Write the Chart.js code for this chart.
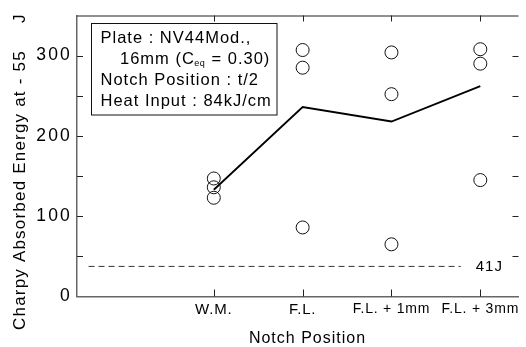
<!DOCTYPE html>
<html><head><meta charset="utf-8">
<script src="https://cdn.jsdelivr.net/npm/chart.js@4"></script>
<style>html,body{margin:0;padding:0;background:#fff;}#wrap{width:526px;height:347px;}</style>
</head><body><div id="wrap"><canvas id="c" width="526" height="347"></canvas></div>
<script>
// ---- data ----
const categories = ['W.M.', 'F.L.', 'F.L. + 1mm', 'F.L. + 3mm'];
const specimenValues = [[147, 136, 123], [307, 285, 86], [304, 252, 65], [308, 290, 145]];
const averageValues = [133, 236, 218, 262];
const criterionValue = 37.5;
const criterionLabel = '41J';
const yTickLabels = [0, 100, 200, 300];
const yTitle = 'Charpy Absorbed Energy at - 55';
const yUnit = 'J';
const xTitle = 'Notch Position';

const FONT = '"Liberation Sans", Arial, sans-serif';

const scatterData = specimenValues.flatMap((vals, i) => vals.map(v => ({x: i, y: v})));
const lineData = averageValues.map((v, i) => ({x: i, y: v}));

function spaced(ctx, ls) { ctx.letterSpacing = ls + 'px'; }

const labelSpacing = {
  id: 'labelSpacing',
  beforeDraw(chart) {
    const cfg = {y: 2.2, x: 0.8};
    for (const id in cfg) {
      const s = chart.scales[id];
      if (s && !s._lsWrapped) {
        const orig = s.drawLabels.bind(s);
        s.drawLabels = function (a) {
          const c = this.ctx; c.save(); c.letterSpacing = cfg[id] + 'px'; orig(a); c.restore();
        };
        s._lsWrapped = true;
      }
    }
  }
};

const decorations = {
  id: 'decorations',
  afterDraw(chart) {
    const ctx = chart.ctx;
    const a = chart.chartArea;
    const xs = chart.scales.x, ys = chart.scales.y;
    ctx.save();
    // top frame line
    ctx.strokeStyle = '#222'; ctx.lineWidth = 1;
    ctx.beginPath(); ctx.moveTo(a.left, a.top + 0.5); ctx.lineTo(a.right, a.top + 0.5); ctx.stroke();
    // inward ticks on y (left and right)
    for (let v = 50; v <= 300; v += 50) {
      const py = Math.round(ys.getPixelForValue(v)) + 0.5;
      ctx.beginPath(); ctx.moveTo(a.left, py); ctx.lineTo(a.left + 6, py); ctx.stroke();
      ctx.beginPath(); ctx.moveTo(a.right - 6, py); ctx.lineTo(a.right, py); ctx.stroke();
    }
    // inward ticks on x (top and bottom)
    categories.forEach((_, i) => {
      const px = Math.round(xs.getPixelForValue(i)) + 0.5;
      ctx.beginPath(); ctx.moveTo(px, a.bottom); ctx.lineTo(px, a.bottom - 7); ctx.stroke();
      ctx.beginPath(); ctx.moveTo(px, a.top); ctx.lineTo(px, a.top + 6); ctx.stroke();
    });
    ctx.fillStyle = '#000';
    // criterion label
    ctx.font = '15px ' + FONT; spaced(ctx, 1);
    ctx.textAlign = 'left'; ctx.textBaseline = 'middle';
    ctx.fillText(criterionLabel, xs.getPixelForValue(2.78) + 15, ys.getPixelForValue(criterionValue));
    // x title
    ctx.font = '16px ' + FONT; spaced(ctx, 1);
    ctx.textAlign = 'center'; ctx.textBaseline = 'alphabetic';
    ctx.fillText(xTitle, 307.5, 343.3);
    // y title
    ctx.save();
    ctx.translate(25, 330); ctx.rotate(-Math.PI / 2);
    ctx.font = '17px ' + FONT; spaced(ctx, 1.2);
    ctx.textAlign = 'left'; ctx.textBaseline = 'alphabetic';
    ctx.fillText(yTitle, 0, 0);
    ctx.fillText(yUnit, 307, 0);
    ctx.restore();
    // annotation box
    ctx.strokeStyle = '#111'; ctx.lineWidth = 1;
    ctx.strokeRect(91.5, 23.5, 185.5, 91.5);
    ctx.font = '16.5px ' + FONT; spaced(ctx, 1);
    ctx.textAlign = 'left'; ctx.textBaseline = 'alphabetic';
    ctx.fillText('Plate : NV44Mod.,', 100.5, 42.7);
    let x = 120;
    const part1 = '16mm (C';
    ctx.fillText(part1, x, 64.3); x += ctx.measureText(part1).width - 0.5;
    ctx.font = '9px ' + FONT; spaced(ctx, 0.3);
    ctx.fillText('eq', x, 66); x += ctx.measureText('eq').width + 1;
    ctx.font = '16.5px ' + FONT; spaced(ctx, 1);
    ctx.fillText(' = 0.30)', x, 64.3);
    ctx.fillText('Notch Position : t/2', 100.5, 85);
    ctx.fillText('Heat Input : 84kJ/cm', 100.5, 106);
    ctx.restore();
  }
};

new Chart(document.getElementById('c'), {
  data: {
    datasets: [
      {
        type: 'scatter', label: 'Specimens', data: scatterData,
        pointStyle: 'circle', pointRadius: 6.5, pointHoverRadius: 6.5,
        borderColor: '#111', borderWidth: 1, backgroundColor: 'rgba(0,0,0,0)', order: 0
      },
      {
        type: 'line', label: 'Average', data: lineData,
        borderColor: '#000', borderWidth: 1.8, pointRadius: 0, fill: false, tension: 0, order: 1
      },
      {
        type: 'line', label: 'Criterion',
        data: [{x: -1.41, y: criterionValue}, {x: 2.78, y: criterionValue}],
        borderColor: '#333', borderWidth: 1, borderDash: [6, 4], pointRadius: 0, fill: false, order: 2
      }
    ]
  },
  options: {
    responsive: false, animation: false, devicePixelRatio: 1,
    layout: {padding: {left: 0, right: 0, top: 12, bottom: 0}},
    plugins: {legend: {display: false}, tooltip: {enabled: false}},
    scales: {
      x: {
        type: 'linear', min: -1.54, max: 3.43,
        afterBuildTicks: s => { s.ticks = categories.map((_, i) => ({value: i})); },
        afterFit: s => { s.height = 50.5; },
        ticks: {
          callback: v => categories[v], autoSkip: false, maxRotation: 0,
          font: c => ({family: FONT, size: c.index < 2 ? 15 : 14}), color: '#000', padding: 4
        },
        grid: {display: false, drawTicks: false},
        border: {display: true, color: '#666', width: 1.5}
      },
      y: {
        type: 'linear', min: 0, max: 350,
        afterFit: s => { s.width = 77; },
        ticks: {
          stepSize: 50, callback: v => yTickLabels.includes(v) ? String(v) : '',
          font: {family: FONT, size: 17.5}, color: '#000', padding: 5
        },
        grid: {display: false, drawTicks: false},
        border: {display: true, color: '#666', width: 1.5}
      }
    }
  },
  plugins: [labelSpacing, decorations]
});
</script></body></html>
